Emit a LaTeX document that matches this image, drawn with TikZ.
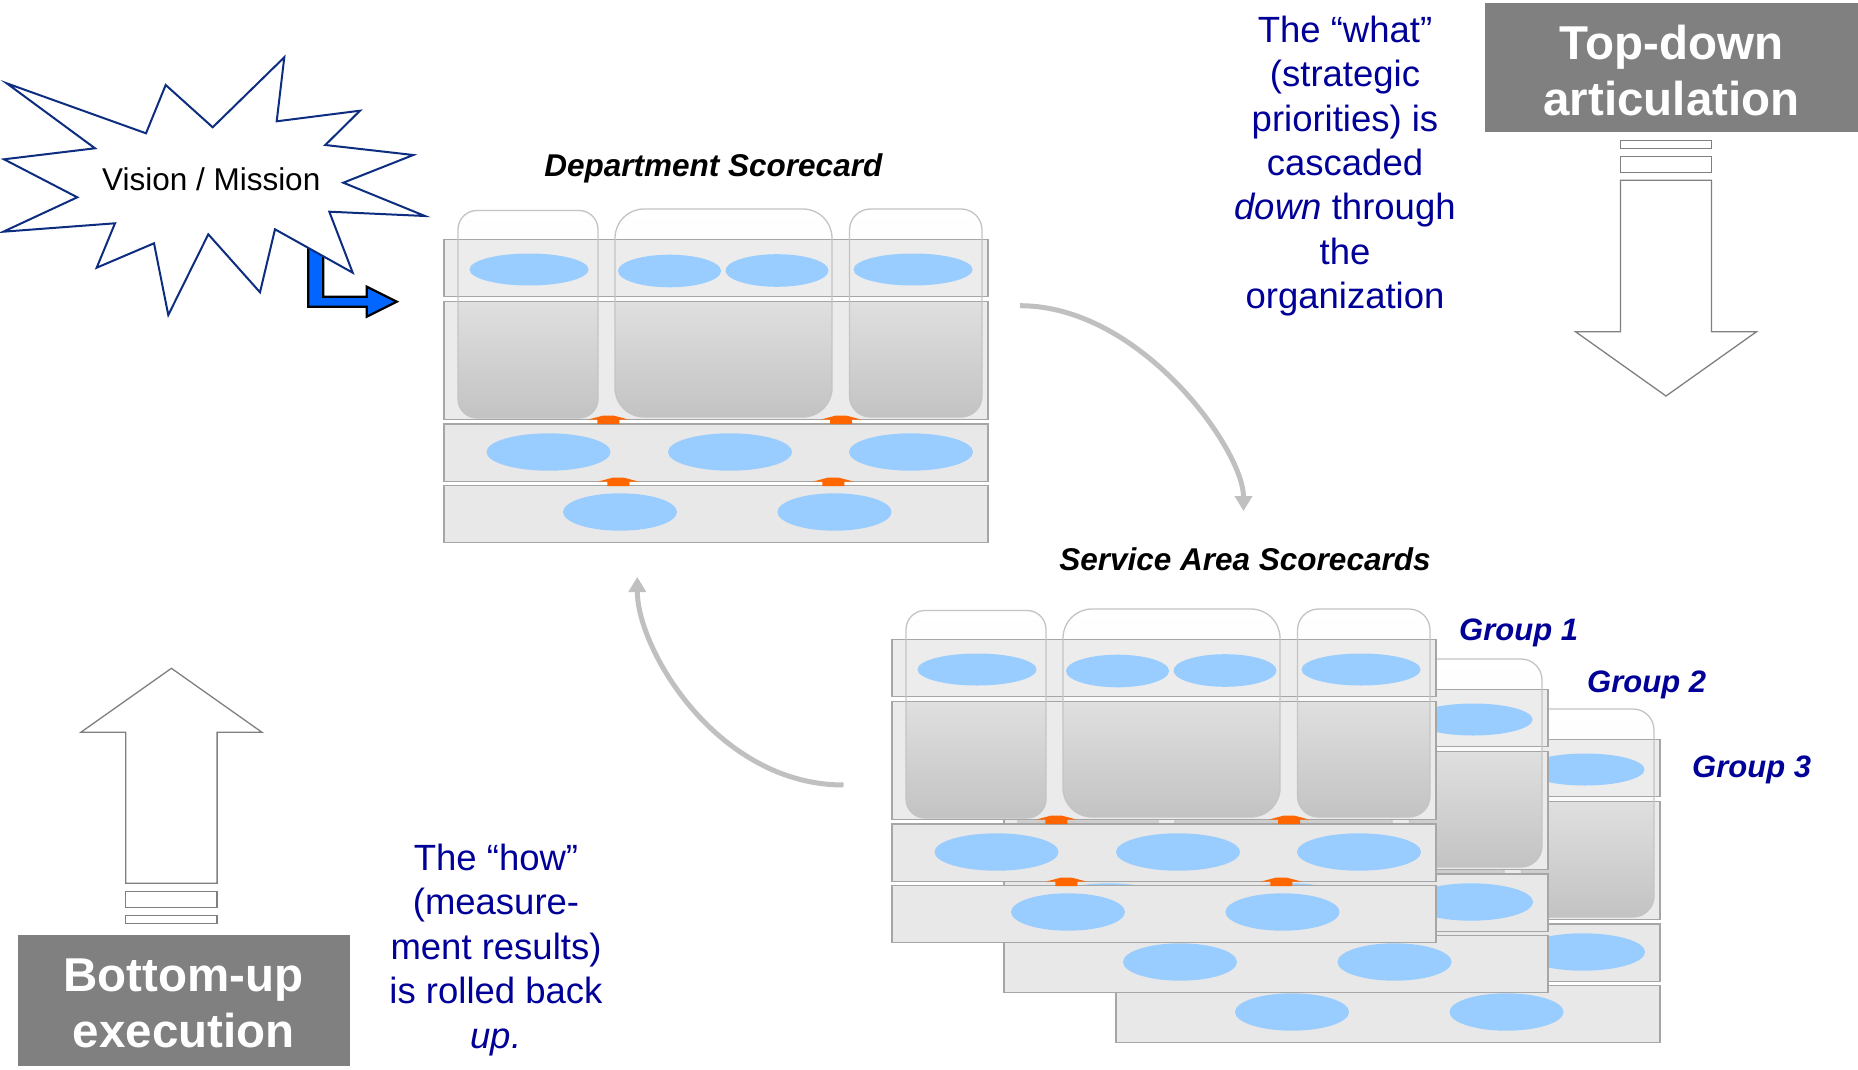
\documentclass[tikz,border=0pt]{standalone}
\usepackage{fontspec}
\setmainfont{Liberation Sans}
\usetikzlibrary{arrows.meta}

\definecolor{navytext}{HTML}{000099}
\definecolor{starline}{HTML}{0D2D80}
\definecolor{ellblue}{HTML}{99CCFF}
\definecolor{bandA}{HTML}{ECECEC}
\definecolor{bandB}{HTML}{EBEBEB}
\definecolor{bandC}{HTML}{E8E8E8}
\definecolor{bandline}{HTML}{A6A6A6}
\definecolor{colline}{HTML}{C4C4C4}
\definecolor{coltop}{HTML}{F4F4F4}
\definecolor{colhi}{HTML}{DFDFDF}
\definecolor{collo}{HTML}{C3C3C3}
\definecolor{upmark}{HTML}{FF6600}
\definecolor{flowgrey}{HTML}{C0C0C0}
\definecolor{boxgrey}{HTML}{808080}
\definecolor{lbluefill}{HTML}{0066FF}

\tikzset{
  band/.style={draw=bandline, line width=1.6pt},
  colshape/.style={draw=colline, line width=1.3pt},
  goal/.style={fill=ellblue},
  flow/.style={draw=flowgrey, line width=5pt, -{Triangle[width=17pt,length=15pt]}},
  blockarrow/.style={draw=boxgrey, fill=white, line width=1.3pt, line join=miter},
  graybox/.style={fill=boxgrey, draw=none, inner sep=0pt},
  boxtext/.style={text=white, font=\fontsize{47.5}{56}\selectfont\bfseries, inner sep=0pt, anchor=base},
  bluetext/.style={text=navytext, font=\fontsize{36.5}{44}\selectfont, inner sep=0pt, anchor=base},
  headtitle/.style={font=\fontsize{31.5}{38}\selectfont\bfseries\itshape, inner sep=0pt, anchor=base},
  grouptag/.style={text=navytext, font=\fontsize{31}{37}\selectfont\bfseries\itshape, inner sep=0pt, anchor=base west},
}

% small orange up-marker sitting on the lower edge (#2) of a band, centred at #1
\newcommand{\upmarker}[2]{%
  \fill[upmark] (#1-11,#2+4.5) -- (#1-11,#2) -- (#1-20,#2) -- (#1-5,#2-4)
    -- (#1+5,#2-4) -- (#1+20,#2) -- (#1+11,#2) -- (#1+11,#2+4.5) -- cycle;}

% one scorecard: three rounded columns crossing four horizontal bands
\newcommand{\scorecardunit}[2]{%
\begin{scope}[shift={(#1,#2)}]
  \foreach \xa/\ya/\xb/\yb/\rc in {458/210.5/598/418/19,615/209/832/417/29,849.5/209/982/417/21}
    \shade[top color=white,bottom color=coltop,rounded corners=\rc pt] (\xa,\ya) rectangle (\xb,\yb);
  \filldraw[band,fill=bandA] (444,239.5) rectangle (988,296.5);
  \filldraw[band,fill=bandB] (444,301.5) rectangle (988,419.5);
  \foreach \xa/\ya/\xb/\yb/\rc in {458/210.5/598/418/19,615/209/832/417/29,849.5/209/982/417/21}{
    \begin{scope}
      \clip[rounded corners=\rc pt] (\xa,\ya) rectangle (\xb,\yb);
      \shade[top color=colhi,bottom color=collo] (\xa,302.5) rectangle (\xb,\yb);
    \end{scope}
    \draw[colshape,rounded corners=\rc pt] (\xa,\ya) rectangle (\xb,\yb);
  }
  \filldraw[band,fill=bandC] (444,424) rectangle (988,481.5);
  \filldraw[band,fill=bandC] (444,485.5) rectangle (988,542.5);
  \foreach \cx/\cy/\rx/\ry in {529/269.5/59.5/16, 669.5/271/51.5/16.3, 777/270.5/51.5/16.3,
      913/269.5/59.5/16, 548.5/452/62/18.7, 730/452/62/18.7, 911/452/62/18.7,
      620/512/57/18.7, 834.5/512/57/18.7}
    \fill[goal] (\cx,\cy) ellipse [x radius=\rx pt, y radius=\ry pt];
  \upmarker{608.3}{419.5}
  \upmarker{841}{419.5}
  \upmarker{618.3}{481.5}
  \upmarker{833.3}{481.5}
\end{scope}}

\begin{document}
\begin{tikzpicture}[x=1pt,y=-1pt]
\useasboundingbox (0,0) rectangle (1858,1070);
\fill[white] (0,0) rectangle (1858,1070);

% department scorecard
\scorecardunit{0}{0}
% service area scorecards, back to front
\scorecardunit{672}{500}
\scorecardunit{560}{450}
\scorecardunit{448}{400}

% cascade and roll-up flows
\coordinate (deptOut) at (1020,305.7);
\coordinate (svcIn) at (1243.5,511);
\draw[flow] (deptOut) .. controls (1141,305.7) and (1243.5,450) .. (svcIn);
\coordinate (svcOut) at (843.5,785);
\coordinate (deptIn) at (637.3,577);
\draw[flow] (svcOut) .. controls (718,785) and (637.3,650) .. (deptIn);

% bent blue arrow leaving the burst
\filldraw[fill=lbluefill, draw=black, line width=2.2pt, line join=miter]
  (308.3,225) -- (308.3,306.7) -- (366.7,306.7) -- (366.7,316.7) -- (396.7,301.7)
  -- (366.7,286.7) -- (366.7,296.7) -- (323.3,296.7) -- (323.3,225) -- cycle;

% burst
\filldraw[fill=white, draw=starline, line width=2pt, line join=miter]
  (6.7,83.3) -- (146,133.3) -- (165.7,85) -- (212.7,127.3) -- (284.3,57.3)
  -- (276.7,121.3) -- (360,110.7) -- (325.3,145) -- (413.3,155) -- (343.3,182.7)
  -- (425,216) -- (329.3,211.7) -- (352.7,272.7) -- (275,229.3) -- (260,292.3)
  -- (208.3,234.3) -- (168.3,315) -- (154,243.3) -- (96.7,267.7) -- (115,223.3)
  -- (3.3,231.7) -- (77.3,197.3) -- (4,159.3) -- (95,148.3) -- cycle;
\node[font=\fontsize{31.5}{37}\selectfont, inner sep=0pt, anchor=base] (vision) at (211.2,190) {Vision / Mission};

% titles
\node[headtitle] (deptTitle) at (713.4,176) {Department Scorecard};
\node[headtitle] (svcTitle) at (1245,570.5) {Service Area Scorecards};
\node[grouptag] (grp1) at (1459,640) {Group 1};
\node[grouptag] (grp2) at (1587,692.5) {Group 2};
\node[grouptag] (grp3) at (1692,777.5) {Group 3};

% top-down side
\node[graybox, minimum width=373pt, minimum height=129pt] (topdownBox) at (1671.5,68) {};
\node[boxtext] (tdL1) at (1671.5,60) {Top-down};
\node[boxtext] (tdL2) at (1671.5,116) {articulation};
\filldraw[blockarrow] (1620.5,140.7) rectangle (1711.5,148.7);
\filldraw[blockarrow] (1620.5,156.7) rectangle (1711.5,172.7);
\filldraw[blockarrow] (1620.5,180.3) -- (1711.5,180.3) -- (1711.5,331.7) -- (1756.5,331.7)
  -- (1666,396) -- (1575.5,331.7) -- (1620.5,331.7) -- cycle;

\node[bluetext] (what1) at (1345,42.7) {The “what”};
\node[bluetext] (what2) at (1345,87) {(strategic};
\node[bluetext] (what3) at (1345,131.3) {priorities) is};
\node[bluetext] (what4) at (1345,175.6) {cascaded};
\node[bluetext] (what5) at (1345,219.9) {{\itshape down} through};
\node[bluetext] (what6) at (1345,264.2) {the};
\node[bluetext] (what7) at (1345,308.5) {organization};

% bottom-up side
\node[graybox, minimum width=332.5pt, minimum height=131pt] (bottomupBox) at (183.75,1000.5) {};
\node[boxtext] (buL1) at (183.7,991.7) {Bottom-up};
\node[boxtext] (buL2) at (183.7,1047.3) {execution};
\filldraw[blockarrow] (125.7,915.7) rectangle (217.1,923.3);
\filldraw[blockarrow] (125.7,891.7) rectangle (217.1,907.3);
\filldraw[blockarrow] (125.7,883.3) -- (217.1,883.3) -- (217.1,732.3) -- (262,732.3)
  -- (171.4,668.3) -- (80.8,732.3) -- (125.7,732.3) -- cycle;

\node[bluetext] (how1) at (496,870) {The “how”};
\node[bluetext] (how2) at (496,914.5) {(measure-};
\node[bluetext] (how3) at (496,959) {ment results)};
\node[bluetext] (how4) at (496,1003.5) {is rolled back};
\node[bluetext] (how5) at (496,1048) {{\itshape up.}};
\end{tikzpicture}
\end{document}
